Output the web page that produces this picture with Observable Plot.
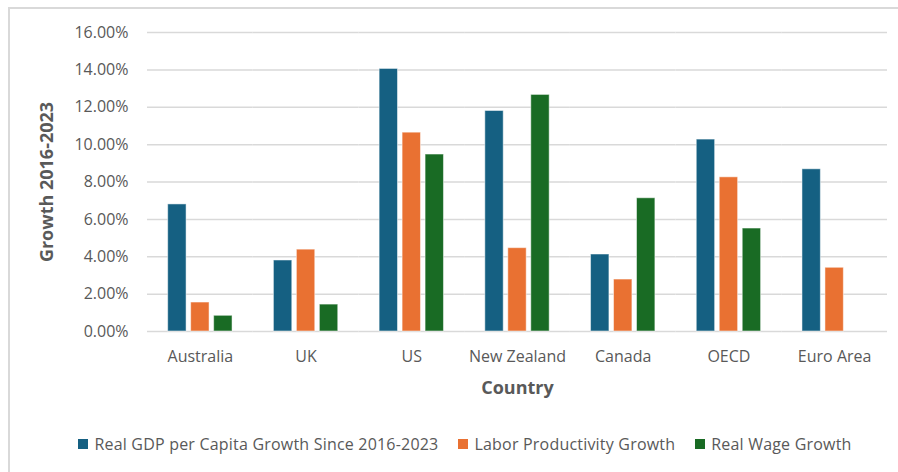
<!DOCTYPE html>
<html><head><meta charset="utf-8">
<script src="https://cdn.jsdelivr.net/npm/d3@7"></script>
<script src="https://cdn.jsdelivr.net/npm/@observablehq/plot@0.6"></script>
<style>
body{margin:0;background:#fff;font-family:"Open Sans", Lato, sans-serif;}
#wrap{position:relative;width:898px;height:472px;overflow:hidden;background:#fff;}
#frame{position:absolute;left:8px;top:7px;right:-4px;bottom:-4px;border-top:2px solid #d9d9d9;border-left:2px solid #d9d9d9;}
#chart{position:absolute;left:0;top:0;}
#legend{position:absolute;top:433px;left:16px;width:898px;display:flex;justify-content:center;gap:20px;font-size:16px;letter-spacing:0.2px;color:#595959;}
.item{display:flex;align-items:center;gap:6px;white-space:nowrap}
.sw{width:10px;height:10px;display:inline-block}
#chart g[aria-label="y-axis label"] text, #chart g[aria-label="fx-axis label"] text{font-weight:bold;font-size:18px;fill:#595959}
</style></head><body>
<div id="wrap"><div id="frame"></div><div id="chart"></div><div id="legend"></div></div>
<script>
const countries = ["Australia","UK","US","New Zealand","Canada","OECD","Euro Area"];
const seriesNames = ["Real GDP per Capita Growth Since 2016-2023","Labor Productivity Growth","Real Wage Growth"];
const gdpGrowth = [6.8,3.8,14.05,11.8,4.12,10.27,8.68];
const productivityGrowth = [1.55,4.38,10.64,4.46,2.78,8.25,3.41];
const wageGrowth = [0.84,1.44,9.47,12.66,7.13,5.51,null];
const seriesColors = ["#156082","#E97132","#196B24"];
const yTicks = [0,2,4,6,8,10,12,14,16];
const yTitle = "Growth 2016-2023";
const xTitle = "Country";

const seriesValues = [gdpGrowth, productivityGrowth, wageGrowth];
const rows = countries.flatMap((c,i)=>seriesNames.map((s,j)=>({country:c, series:s, value:seriesValues[j][i]}))).filter(d=>d.value!=null);

const plot = Plot.plot({
  width: 898, height: 420,
  marginLeft:147, marginRight:11, marginTop:32, marginBottom:89,
  style:{fontFamily:"'Open Sans', Lato, sans-serif", fontSize:"16px", color:"#595959", background:"transparent"},
  fx:{domain:countries, padding:0, round:false, label:null},
  x:{domain:seriesNames, paddingInner:0.2, paddingOuter:0.9, round:false, axis:null},
  y:{domain:[0,16], ticks:yTicks},
  color:{domain:seriesNames, range:seriesColors},
  marks:[
    Plot.ruleY(yTicks,{stroke:"#d9d9d9", strokeWidth:1.5}),
    Plot.barY(rows,{fx:"country", x:"series", y:"value", fill:"series", stroke:"#fff", strokeOpacity:0.5, strokeWidth:1}),
    Plot.axisY({ticks:yTicks, tickFormat:d=>d.toFixed(2)+"%", tickSize:0, tickPadding:19, label:yTitle, labelArrow:"none", labelAnchor:"center", labelOffset:107}),
    Plot.axisFx({anchor:"bottom", tickSize:0, tickPadding:19, label:xTitle, labelArrow:"none", labelAnchor:"center", labelOffset:62})
  ]
});
document.getElementById("chart").appendChild(plot);

const legend = document.getElementById("legend");
seriesNames.forEach((s,i)=>{
  const it = document.createElement("div"); it.className="item";
  const sw = document.createElement("span"); sw.className="sw"; sw.style.background=seriesColors[i];
  const t = document.createElement("span"); t.textContent=s;
  it.appendChild(sw); it.appendChild(t); legend.appendChild(it);
});
</script>
</body></html>
